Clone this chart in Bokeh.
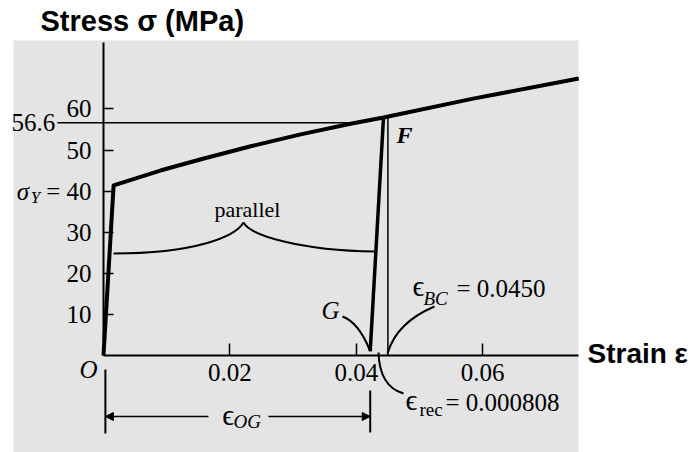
import numpy as np
from bokeh.plotting import figure
from bokeh.models import Range1d, LinearAxis, FixedTicker, Arrow, NormalHead
from bokeh.core.properties import value
from bokeh.embed import file_html
from bokeh.resources import INLINE

# Loading curve: strain vs. stress (MPa)
strain_curve = [0.0, 0.0016, 0.0090, 0.0153, 0.0233, 0.0312, 0.0391, 0.0443, 0.0585, 0.0752]
stress_curve = [0.0, 41.4, 45.0, 47.7, 50.9, 53.8, 56.4, 57.9, 62.5, 67.4]

# Unloading from F back down to G
F_strain, F_stress = 0.0443, 57.9
G_strain, G_stress = 0.0422, 1.0
eps_BC = 0.0450
eps_rec = 0.000808
stress_at_F = 56.6
yield_stress = 40

x_ticks = [0.02, 0.04, 0.06]
y_ticks = [10, 20, 30, 40, 50, 60]
y_tick_overrides = {40: "= 40"}

SERIF = value("Liberation Serif")
SANS = value("Liberation Sans")

p = figure(width=693, height=452, output_backend="svg", toolbar_location=None,
           x_axis_type=None, y_axis_type=None, min_border=0,
           x_range=Range1d(-103 / 6320, 590 / 6320),
           y_range=Range1d(-97 / 4.11, 355 / 4.11))
p.outline_line_color = None
p.background_fill_color = "white"
p.border_fill_color = "white"

# paper panel behind the chart
p.quad(left=-0.01424, right=0.07516, bottom=-23.6, top=76.64,
       fill_color="#e4e4e4", line_color=None)

# axes crossing at the origin
xaxis = LinearAxis(fixed_location=0, bounds=(0, 0.0752),
                   ticker=FixedTicker(ticks=x_ticks, minor_ticks=[]))
yaxis = LinearAxis(fixed_location=0, bounds=(0, 76.2),
                   ticker=FixedTicker(ticks=y_ticks, minor_ticks=[]),
                   major_label_overrides=y_tick_overrides)
for ax in (xaxis, yaxis):
    ax.axis_line_width = 2
    ax.axis_line_color = "black"
    ax.major_tick_line_width = 1.5
    ax.major_tick_line_color = "black"
    ax.major_tick_out = 0
    ax.minor_tick_in = 0
    ax.minor_tick_out = 0
    ax.major_label_text_font = "Liberation Serif"
    ax.major_label_text_font_size = "25px"
    ax.major_label_text_color = "black"
xaxis.major_tick_in = 12
xaxis.major_label_standoff = 8
yaxis.major_tick_in = 10
yaxis.major_label_standoff = 12
p.add_layout(xaxis, "below")
p.add_layout(yaxis, "left")

# stress-strain curve
p.line(strain_curve, stress_curve, line_width=4, line_color="black", line_join="round")
# unloading line F -> G
p.line([F_strain, G_strain], [F_stress, G_stress], line_width=3.5, line_color="black")
# total strain at F
top_BC = float(np.interp(eps_BC, strain_curve, stress_curve))
p.segment(x0=[eps_BC], y0=[0], x1=[eps_BC], y1=[top_BC], line_width=1.5, line_color="black")
# stress level at F
x_hit = float(np.interp(stress_at_F, stress_curve, strain_curve))
p.segment(x0=[-0.0073], y0=[stress_at_F], x1=[x_hit], y1=[stress_at_F],
          line_width=1.5, line_color="black")

# brace marking the parallel lines
p.bezier(x0=[0.001582, 0.022152], y0=[24.82, 32.36],
         x1=[0.022152, 0.042880], y1=[32.36, 25.30],
         cx0=[0.014557, 0.023260], cy0=[24.82, 29.20],
         cx1=[0.020886, 0.031172], cy1=[28.95, 25.55],
         line_width=2, line_color="black")

# leader curves
p.quadratic(x0=[0.037816, 0.044937, 0.043513],
            y0=[9.49, 0.49, 0.73],
            x1=[0.042089, 0.052373, 0.047468],
            y1=[1.46, 11.92, -9.25],
            cx=[0.040348, 0.046361, 0.043671],
            cy=[8.03, 8.03, -7.54],
            line_width=2, line_color="black")

# dimension for eps_OG
p.segment(x0=[0.0003, G_strain], y0=[-3.41, -8.52], x1=[0.0003, G_strain], y1=[-18.98, -18.73],
          line_width=2, line_color="black")
for xs, xe in ((0.0166, 0.0003), (0.0261, G_strain)):
    p.add_layout(Arrow(end=NormalHead(size=8, fill_color="black", line_color="black", line_width=1),
                       x_start=xs, y_start=-14.84, x_end=xe, y_end=-14.84,
                       line_width=1.5, line_color="black"))

# labels
p.text(x=[-0.0073], y=[stress_at_F], text=["56.6"], text_font=SERIF, text_font_size="25px",
       text_align="right", text_baseline="middle", x_offset=-2)
p.text(x=[-0.01274], y=[40.02], text=["σ"], text_font=SERIF, text_font_size="25px",
       text_font_style="italic", text_align="center", text_baseline="middle")
p.text(x=[-0.01076], y=[38.44], text=["Y"], text_font=SERIF, text_font_size="17px",
       text_font_style="italic", text_align="center", text_baseline="middle")
p.text(x=[-0.00237, 0.03592], y=[-3.41, 10.83], text=["O", "G"], text_font=SERIF,
       text_font_size="25px", text_font_style="italic", text_align="center", text_baseline="middle")
p.text(x=[0.04763], y=[53.53], text=["F"], text_font=SERIF, text_font_size="24px",
       text_font_style="bold italic", text_align="center", text_baseline="middle")
p.text(x=[0.02278], y=[35.6], text=["parallel"], text_font=SERIF, text_font_size="22px",
       text_align="center", text_baseline="middle")

# epsilon labels
p.text(x=[0.0197, 0.04984, 0.04873], y=[-14.48, 16.91, -10.83], text=["ϵ", "ϵ", "ϵ"],
       text_font=SERIF, text_font_size="29px", text_align="center", text_baseline="middle")
p.text(x=[0.02057, 0.05063], y=[-16.06, 13.87], text=["OG", "BC"], text_font=SERIF,
       text_font_size="19px", text_font_style="italic", text_align="left", text_baseline="middle")
p.text(x=[0.05000], y=[-13.02], text=["rec"], text_font=SERIF, text_font_size="19px",
       text_align="left", text_baseline="middle")
p.text(x=[0.05585, 0.05411], y=[16.30, -11.44],
       text=[f"= {eps_BC:.4f}", f"= {eps_rec:.6f}"], text_font=SERIF,
       text_font_size="25px", text_align="left", text_baseline="middle")

# axis titles
p.text(x=[-0.00997], y=[81.5], text=["Stress σ (MPa)"], text_font=SANS, text_font_size="29px",
       text_font_style="bold", text_align="left", text_baseline="middle")
p.text(x=[0.07658], y=[0.49], text=["Strain ε"], text_font=SANS, text_font_size="28px",
       text_font_style="bold", text_align="left", text_baseline="middle")

open("out.html", "w").write(file_html(p, INLINE))
